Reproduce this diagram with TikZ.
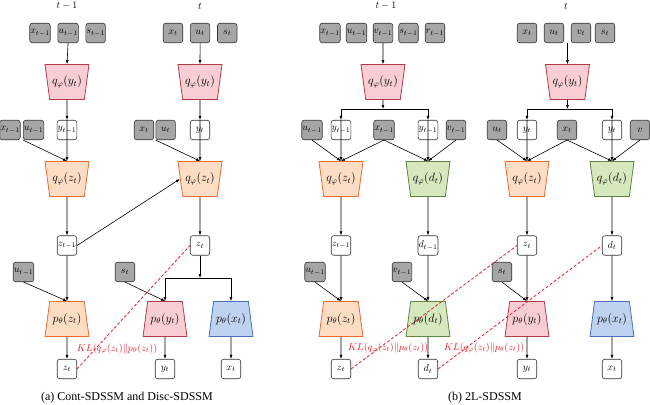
\documentclass[tikz,border=0pt]{standalone}
\usepackage{amsmath}
\usepackage{amssymb}
\usepackage{fontspec}
\setmainfont{Liberation Serif}
\usepackage{tikz}
\usetikzlibrary{shapes.geometric, positioning, arrows.meta}

\definecolor{pinkfill}{RGB}{248,206,212}
\definecolor{pinkline}{RGB}{178,60,72}
\definecolor{orangefill}{RGB}{253,222,196}
\definecolor{orangeline}{RGB}{232,108,52}
\definecolor{greenfill}{RGB}{214,232,190}
\definecolor{greenline}{RGB}{96,134,66}
\definecolor{bluefill}{RGB}{191,211,241}
\definecolor{blueline}{RGB}{72,112,190}
\definecolor{klred}{RGB}{232,30,40}

\begin{document}
\begin{tikzpicture}[
            x=1pt, y=-1pt,
            obs/.style={draw=black!80, fill=gray!70, rounded corners=2.5pt, minimum size=19.5pt, inner sep=0.5pt, line width=0.6pt},
            lat/.style={obs, fill=white},
            enc/.style={trapezium, trapezium stretches=true, shape border rotate=180, trapezium left angle=72, trapezium right angle=72, minimum width=44pt, minimum height=35pt, inner sep=0pt, line width=0.8pt, font=\large},
            dec/.style={enc, shape border rotate=0},
            arrow/.style={-{Latex[length=4pt,width=3pt]}, line width=0.6pt},
            kl/.style={draw=klred, line width=0.8pt, dash pattern=on 3pt off 2pt},
            kltext/.style={text=klred},
            caption/.style={font=\fontsize{12}{14}\selectfont},
            node distance=7pt
        ]
    \useasboundingbox (0,0) rectangle (650,404);

    % ---------------- (a) ----------------
    \node (a-h1) at (67,6) {$t-1$};
    \node (a-h2) at (200,6) {$t$};

    % Inputs
    \node[obs] (a-x1) at (40,33) {$x_{t-1}$};
    \node[obs, right=of a-x1] (a-u1) {$u_{t-1}$};
    \node[obs, right=of a-u1] (a-s1) {$s_{t-1}$};
    \node[obs] (a-x2) at (173,33) {$x_t$};
    \node[obs, right=of a-x2] (a-u2) {$u_t$};
    \node[obs, right=of a-u2] (a-s2) {$s_t$};

    % Encoders for y
    \node[enc, fill=pinkfill, draw=pinkline] (a-qy1) at (67,82) {$q_\varphi(y_t)$};
    \node[enc, fill=pinkfill, draw=pinkline] (a-qy2) at (200,82) {$q_\varphi(y_t)$};

    % Second row
    \node[obs] (a-xb1) at (10,130) {$x_{t-1}$};
    \node[obs, right=2.5pt of a-xb1] (a-ub1) {$u_{t-1}$};
    \node[lat] (a-y1) at (67,130) {$y_{t-1}$};
    \node[obs] (a-xb2) at (144,130) {$x_t$};
    \node[obs, right=1.5pt of a-xb2] (a-ub2) {$u_t$};
    \node[lat] (a-y2) at (200,130) {$y_t$};

    % Encoders for z
    \node[enc, fill=orangefill, draw=orangeline] (a-qz1) at (67,179) {$q_\varphi(z_t)$};
    \node[enc, fill=orangefill, draw=orangeline] (a-qz2) at (200,179) {$q_\varphi(z_t)$};
    \node[lat] (a-z1) at (67,245.5) {$z_{t-1}$};
    \node[lat] (a-z2) at (200,245.5) {$z_t$};

    % Decoders
    \node[obs] (a-uc1) at (23.5,272) {$u_{t-1}$};
    \node[obs] (a-sc2) at (125,272) {$s_t$};
    \coordinate (a-split) at (200,278);
    \node[dec, fill=orangefill, draw=orangeline] (a-pz) at (67,319) {$p_\theta(z_t)$};
    \node[dec, fill=pinkfill, draw=pinkline] (a-py) at (165,319) {$p_\theta(y_t)$};
    \node[dec, fill=bluefill, draw=blueline] (a-px) at (231,319) {$p_\theta(x_t)$};
    \node[lat] (a-oz) at (67,369) {$z_t$};
    \node[lat] (a-oy) at (165,369) {$y_t$};
    \node[lat] (a-ox) at (231,369) {$x_t$};
    \node[kltext] (a-kl) at (117,349) {$KL(q_\varphi(z_t)\|p_\theta(z_t))$};
    \node[caption] (a-cap) at (127,398) {(a) Cont-SDSSM and Disc-SDSSM};

    % Arrows
    \draw[arrow] (a-u1.south) -- (a-qy1.north);
    \draw[arrow] (a-u2.south) -- (a-qy2.north);
    \draw[arrow] (a-qy1.south) -- (a-y1.north);
    \draw[arrow] (a-qy2.south) -- (a-y2.north);
    \draw[arrow] (a-y1.north) -- (a-qz1.north);
    \draw[arrow] (a-y2.north) -- (a-qz2.north);
    \draw[arrow] (a-ub1.south west) -- (a-qz1.north);
    \draw[arrow] (a-ub2.south west) -- (a-qz2.north);
    \draw[arrow] (a-qz1) -- (a-z1);
    \draw[arrow] (a-qz2) -- (a-z2);
    \draw[arrow] (a-z1.east) -- (a-qz2.west);
    \draw[arrow] (a-z1) -- (a-pz);
    \draw[arrow] (a-uc1.south) -- (a-pz.north);
    \draw[arrow] (a-z2) -- (a-split);
    \draw[arrow] (a-split) -| (a-py.north);
    \draw[arrow] (a-split) -| (a-px.north);
    \draw[arrow] (a-sc2.south) -- (a-py.north);
    \draw[arrow] (a-pz) -- (a-oz);
    \draw[arrow] (a-py) -- (a-oy);
    \draw[arrow] (a-px) -- (a-ox);
    \draw[kl] (a-oz.east) -- (a-z2.west);

    % ---------------- (b) ----------------
    \node (b-h1) at (386,6) {$t-1$};
    \node (b-h2) at (566,6) {$t$};

    % Inputs
    \node[obs] (b-x1) at (330,33) {$x_{t-1}$};
    \node[obs] (b-u1) at (356.5,33) {$u_{t-1}$};
    \node[obs] (b-v1) at (383,33) {$v_{t-1}$};
    \node[obs] (b-s1) at (408.5,33) {$s_{t-1}$};
    \node[obs] (b-r1) at (435,33) {$r_{t-1}$};
    \node[obs] (b-x2) at (527,33) {$x_t$};
    \node[obs] (b-u2) at (554,33) {$u_t$};
    \node[obs] (b-v2) at (581,33) {$v_t$};
    \node[obs] (b-s2) at (605,33) {$s_t$};
    \coordinate (b-in2) at (567.5,43);

    % Encoders for y
    \node[enc, fill=pinkfill, draw=pinkline] (b-qy1) at (383,82) {$q_\varphi(y_t)$};
    \node[enc, fill=pinkfill, draw=pinkline] (b-qy2) at (567.5,82) {$q_\varphi(y_t)$};
    \coordinate (b-bus1) at (383,109);
    \coordinate (b-bus2) at (567.5,109);

    % Second row
    \node[obs] (b-ub1) at (312,130) {$u_{t-1}$};
    \node[lat] (b-ya1) at (341,130) {$y_{t-1}$};
    \node[obs] (b-xb1) at (384,130) {$x_{t-1}$};
    \node[lat] (b-yb1) at (428,130) {$y_{t-1}$};
    \node[obs] (b-vb1) at (456,130) {$v_{t-1}$};
    \node[obs] (b-ub2) at (497,130) {$u_t$};
    \node[lat] (b-ya2) at (527,130) {$y_t$};
    \node[obs] (b-xb2) at (567,130) {$x_t$};
    \node[lat] (b-yb2) at (612,130) {$y_t$};
    \node[obs] (b-vb2) at (640,130) {$v$};

    % Encoders for z and d
    \node[enc, fill=orangefill, draw=orangeline] (b-qz1) at (341,179) {$q_\varphi(z_t)$};
    \node[enc, fill=greenfill, draw=greenline] (b-qd1) at (428,179) {$q_\varphi(d_t)$};
    \node[enc, fill=orangefill, draw=orangeline] (b-qz2) at (527,179) {$q_\varphi(z_t)$};
    \node[enc, fill=greenfill, draw=greenline] (b-qd2) at (612,179) {$q_\varphi(d_t)$};
    \node[lat] (b-z1) at (341,245.5) {$z_{t-1}$};
    \node[lat] (b-d1) at (428,245.5) {$d_{t-1}$};
    \node[lat] (b-z2) at (527,245.5) {$z_t$};
    \node[lat] (b-d2) at (612,245.5) {$d_t$};

    % Decoders
    \node[obs] (b-uc1) at (315,272) {$u_{t-1}$};
    \node[obs] (b-vc1) at (402,272) {$v_{t-1}$};
    \node[obs] (b-sc2) at (502,272) {$s_t$};
    \node[dec, fill=orangefill, draw=orangeline] (b-pz) at (341,319) {$p_\theta(z_t)$};
    \node[dec, fill=greenfill, draw=greenline] (b-pd) at (428,319) {$p_\theta(d_t)$};
    \node[dec, fill=pinkfill, draw=pinkline] (b-py) at (527,319) {$p_\theta(y_t)$};
    \node[dec, fill=bluefill, draw=blueline] (b-px) at (612,319) {$p_\theta(x_t)$};
    \node[lat] (b-oz) at (341,369) {$z_t$};
    \node[lat] (b-od) at (428,369) {$d_t$};
    \node[lat] (b-oy) at (527,369) {$y_t$};
    \node[lat] (b-ox) at (612,369) {$x_t$};
    \node[kltext] (b-kl1) at (388,348) {$KL(q_\varphi(z_t)\|p_\theta(z_t))$};
    \node[kltext] (b-kl2) at (484,348) {$KL(q_\varphi(z_t)\|p_\theta(z_t))$};
    \node[caption] (b-cap) at (485,398) {(b) 2L-SDSSM};

    % Arrows
    \draw[arrow] (b-v1.south) -- (b-qy1.north);
    \draw[arrow] (b-in2) -- (b-qy2.north);
    \draw[arrow] (b-qy1.south) -- (b-bus1);
    \draw[arrow] (b-qy2.south) -- (b-bus2);
    \draw[arrow] (b-bus1) -| (b-ya1.north);
    \draw[arrow] (b-bus1) -| (b-yb1.north);
    \draw[arrow] (b-bus2) -| (b-ya2.north);
    \draw[arrow] (b-bus2) -| (b-yb2.north);
    \draw[arrow] (b-ya1.north) -- (b-qz1.north);
    \draw[arrow] (b-yb1.north) -- (b-qd1.north);
    \draw[arrow] (b-ya2.north) -- (b-qz2.north);
    \draw[arrow] (b-yb2.north) -- (b-qd2.north);
    \draw[arrow] (b-ub1.south) -- (b-qz1.north);
    \draw[arrow] (b-xb1.south) -- (b-qz1.north);
    \draw[arrow] (b-xb1.south) -- (b-qd1.north);
    \draw[arrow] (b-vb1.south) -- (b-qd1.north);
    \draw[arrow] (b-ub2.south) -- (b-qz2.north);
    \draw[arrow] (b-xb2.south) -- (b-qz2.north);
    \draw[arrow] (b-xb2.south) -- (b-qd2.north);
    \draw[arrow] (b-vb2.south) -- (b-qd2.north);
    \draw[arrow] (b-qz1) -- (b-z1);
    \draw[arrow] (b-qd1) -- (b-d1);
    \draw[arrow] (b-qz2) -- (b-z2);
    \draw[arrow] (b-qd2) -- (b-d2);
    \draw[arrow] (b-z1) -- (b-pz);
    \draw[arrow] (b-d1) -- (b-pd);
    \draw[arrow] (b-z2) -- (b-py);
    \draw[arrow] (b-d2) -- (b-px);
    \draw[arrow] (b-uc1.south) -- (b-pz.north);
    \draw[arrow] (b-vc1.south) -- (b-pd.north);
    \draw[arrow] (b-sc2.south) -- (b-py.north);
    \draw[arrow] (b-pz) -- (b-oz);
    \draw[arrow] (b-pd) -- (b-od);
    \draw[arrow] (b-py) -- (b-oy);
    \draw[arrow] (b-px) -- (b-ox);
    \draw[kl] (b-oz.east) -- (b-z2.west);
    \draw[kl] (b-od.east) -- (b-d2.west);

\end{tikzpicture}
\end{document}
